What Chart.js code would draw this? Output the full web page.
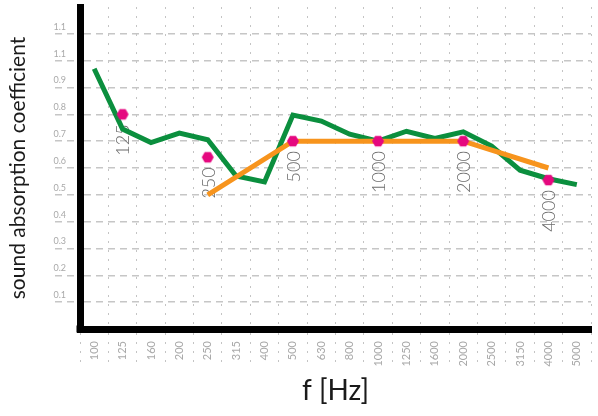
<!DOCTYPE html>
<html lang="en">
<head>
    <meta charset="UTF-8">
    <title>Sound absorption coefficient</title>
    <script src="https://cdn.jsdelivr.net/npm/chart.js"></script>
    <style>
        html, body { margin: 0; padding: 0; background: #fff; }
        #wrap { width: 598px; height: 416px; }
    </style>
</head>
<body>
    <div id="wrap"><canvas id="absChart"></canvas></div>

    <script>
        // Datos
        const categories = ['100', '125', '160', '200', '250', '315', '400', '500', '630', '800',
                            '1000', '1250', '1600', '2000', '2500', '3150', '4000', '5000'];
        const measured = [0.97, 0.745, 0.695, 0.73, 0.705, 0.57, 0.548, 0.797, 0.775, 0.726,
                          0.70, 0.737, 0.71, 0.735, 0.682, 0.592, 0.56, 0.538];
        const reference = [null, null, null, null, 0.5, null, null, 0.7, null, null,
                           0.7, null, null, 0.7, null, null, 0.6, null];
        const octave = [null, 0.8, null, null, 0.64, null, null, 0.7, null, null,
                        0.7, null, null, 0.7, null, null, 0.555, null];
        const yTickLabels = ['', '0.1', '0.2', '0.3', '0.4', '0.5', '0.6', '0.7', '0.8', '0.9', '1.1', '1.1', ''];

        // hexagono para los puntos
        function hexagon(r, color) {
            const c = document.createElement('canvas');
            c.width = r * 2 + 2;
            c.height = r * 2 + 2;
            const g = c.getContext('2d');
            g.fillStyle = color;
            g.beginPath();
            for (let k = 0; k < 6; k++) {
                const a = Math.PI / 3 * k;
                const px = r + 1 + r * Math.cos(a);
                const py = r + 1 + r * Math.sin(a);
                if (k === 0) g.moveTo(px, py); else g.lineTo(px, py);
            }
            g.closePath();
            g.fill();
            return c;
        }

        // etiquetas verticales debajo de los puntos
        const bandLabels = {
            id: 'bandLabels',
            beforeDatasetsDraw(chart) {
                const meta = chart.getDatasetMeta(0);
                const ctx = chart.ctx;
                ctx.save();
                ctx.font = '300 18px Lato';
                ctx.fillStyle = '#6d6d6d';
                ctx.textAlign = 'right';
                ctx.textBaseline = 'middle';
                meta.data.forEach((pt, i) => {
                    if (octave[i] === null) return;
                    ctx.save();
                    ctx.translate(pt.x + 1, pt.y + 10);
                    ctx.rotate(-Math.PI / 2);
                    ctx.fillText(categories[i], 0, 0);
                    ctx.restore();
                });
                ctx.restore();
            },
            afterDraw(chart) {
                // esquina de los ejes
                const a = chart.chartArea;
                chart.ctx.save();
                chart.ctx.fillStyle = '#000';
                chart.ctx.fillRect(a.left - 3.5, a.bottom - 3.5, 7, 7);
                chart.ctx.restore();
            }
        };

        // sin linea en 0 ni en 1.2
        function yGridColor(c) {
            const v = c.tick ? c.tick.value : 0;
            return (v < 0.05 || v > 1.15) ? 'rgba(0,0,0,0)' : '#c6c6c6';
        }

        const ctx = document.getElementById('absChart').getContext('2d');
        new Chart(ctx, {
            type: 'line',
            data: {
                labels: categories,
                datasets: [
                    {
                        label: 'octave',
                        data: octave,
                        showLine: false,
                        pointStyle: hexagon(6, '#e5087f'),
                        pointRadius: 6,
                        order: 0
                    },
                    {
                        label: 'reference',
                        data: reference,
                        spanGaps: true,
                        borderColor: '#f7941d',
                        borderWidth: 5,
                        pointRadius: 0,
                        order: 1
                    },
                    {
                        label: 'measured',
                        data: measured,
                        borderColor: '#0b8f3e',
                        borderWidth: 5,
                        pointRadius: 0,
                        borderJoinStyle: 'miter',
                        order: 2
                    }
                ]
            },
            options: {
                responsive: true,
                maintainAspectRatio: false,
                animation: false,
                layout: { padding: { top: 6, right: 5, bottom: 0, left: 0 } },
                plugins: {
                    legend: { display: false },
                    tooltip: { enabled: false }
                },
                scales: {
                    x: {
                        type: 'category',
                        offset: true,
                        border: { color: '#000', width: 7, dash: [2, 7] },
                        grid: {
                            offset: true,
                            color: '#c4c4c4',
                            lineWidth: 1,
                            tickLength: 33,
                            tickBorderDash: [2, 7],
                            tickColor: '#c4c4c4'
                        },
                        ticks: {
                            color: '#a9a9a9',
                            font: { family: 'Lato', size: 11 },
                            minRotation: 90,
                            maxRotation: 90,
                            padding: -21,
                            autoSkip: false
                        },
                        title: {
                            display: true,
                            text: 'f [Hz]',
                            color: '#1a1a1a',
                            font: { family: 'Lato', size: 28 },
                            padding: { top: 0, bottom: 8 }
                        },
                        afterFit(scale) { scale.height = 87; }
                    },
                    y: {
                        min: 0,
                        max: 1.2,
                        border: { color: '#000', width: 7, dash: [7, 5] },
                        grid: {
                            color: yGridColor,
                            lineWidth: 1.5,
                            tickLength: 25,
                            tickBorderDash: [7, 5],
                            tickColor: yGridColor
                        },
                        ticks: {
                            stepSize: 0.1,
                            color: '#a9a9a9',
                            font: { family: 'Lato', size: 9 },
                            padding: -11,
                            labelOffset: -7,
                            callback: (v) => yTickLabels[Math.round(v * 10)]
                        },
                        title: {
                            display: true,
                            text: 'sound absorption coefficient',
                            color: '#1a1a1a',
                            font: { family: 'Lato', size: 21 },
                            padding: { top: 6, bottom: 0 }
                        },
                        afterFit(scale) { scale.width = 80; }
                    }
                }
            },
            plugins: [bandLabels]
        });
    </script>
</body>
</html>
